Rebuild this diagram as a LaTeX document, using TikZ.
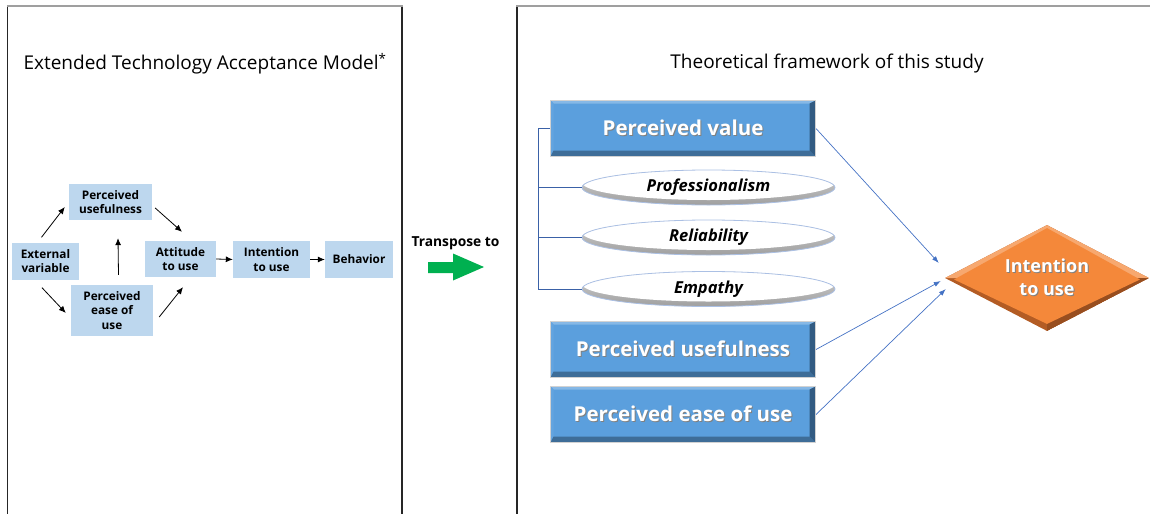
\documentclass[tikz,border=0pt]{standalone}
\usepackage{fontspec}
\setmainfont{Open Sans}
\usetikzlibrary{shapes.geometric,arrows.meta}
\tikzset{>={Latex[length=7pt,width=6pt]}}
\definecolor{tambox}{HTML}{BDD7EE}
\definecolor{pvblue}{HTML}{5B9FDD}
\definecolor{pvdark}{HTML}{3E6D98}
\definecolor{pvdarker}{HTML}{325B82}
\definecolor{pvlight}{HTML}{86B8E6}
\definecolor{linkblue}{HTML}{4472C4}
\definecolor{itorange}{HTML}{F4883A}
\definecolor{itdark}{HTML}{B35C24}
\definecolor{itlight}{HTML}{F7A86F}
\definecolor{arrgreen}{HTML}{00B050}
\colorlet{framegray}{gray!75}

% white text with a soft drop shadow
\newcommand\shtxt[1]{\leavevmode\rlap{\hspace{1pt}\raisebox{-1.2pt}{\color{black!50}#1}}#1}

\tikzset{
  side/.style = {line width=1.2pt, black!85},
  topline/.style = {line width=2pt, framegray},
  ttl/.style = {font=\fontsize{19}{23}\selectfont},
  tam/.style = {
    fill=tambox, align=center, inner sep=0pt, minimum height=37pt,
    font=\fontsize{11.8}{14.5}\selectfont\bfseries
  },
  arr/.style = {->, line width=0.8pt},
  link/.style = {->, line width=0.7pt, linkblue, >={Latex[length=7pt,width=5pt]}},
  brk/.style = {line width=1pt, linkblue!85!black},
  bevel/.style = {
    rectangle, fill=pvblue, draw=gray!35, line width=1pt,
    minimum width=265pt, minimum height=56pt, text=white,
    font=\fontsize{20.5}{24}\selectfont\bfseries,
    path picture={
      \def\bb{path picture bounding box}
      \fill[pvlight] (\bb.north west) -- (\bb.north east) -- ([shift={(-6pt,-3pt)}]\bb.north east) -- ([shift={(3pt,-3pt)}]\bb.north west) -- cycle;
      \fill[pvblue!80!pvlight] (\bb.north west) -- (\bb.south west) -- ([shift={(3pt,6pt)}]\bb.south west) -- ([shift={(3pt,-3pt)}]\bb.north west) -- cycle;
      \fill[pvdark] (\bb.south west) -- (\bb.south east) -- ([shift={(-6pt,6pt)}]\bb.south east) -- ([shift={(3pt,6pt)}]\bb.south west) -- cycle;
      \fill[pvdarker] (\bb.south east) -- (\bb.north east) -- ([shift={(-6pt,-3pt)}]\bb.north east) -- ([shift={(-6pt,6pt)}]\bb.south east) -- cycle;
    }
  },
  disc/.style = {
    ellipse, draw=linkblue!45, line width=0.8pt,
    minimum width=253pt, minimum height=35pt, inner sep=0pt,
    font=\fontsize{16.5}{19}\selectfont\bfseries\itshape,
    path picture={
      \def\bb{path picture bounding box}
      \shade[top color=gray!35, bottom color=gray!75] (\bb.south west) rectangle (\bb.north east);
      \fill[white] ([yshift=5pt]\bb.center) ellipse [x radius=126.5pt, y radius=17.5pt];
    }
  },
  itu/.style = {
    diamond, aspect=1.92, minimum width=204pt, minimum height=106pt, inner sep=0pt,
    fill=itdark, text=white, align=center,
    font=\fontsize{18}{23}\selectfont\bfseries,
    path picture={
      \def\bb{path picture bounding box}
      \fill[itlight] (\bb.west) -- (\bb.north) -- (\bb.east) -- cycle;
      \fill[itdark!85!black] (\bb.south) -- (\bb.east) -- ([xshift=-102pt]\bb.east) -- cycle;
      \fill[itorange] ([shift={(9pt,-1.5pt)}]\bb.west) -- ([yshift=-3pt]\bb.north)
        -- ([shift={(-9pt,-1.5pt)}]\bb.east) -- ([yshift=7pt]\bb.south) -- cycle;
    }
  }
}

\begin{document}
\begin{tikzpicture}[x=1pt,y=-1pt]
  \useasboundingbox (0,0) rectangle (1150,514);
  % frames
  \draw[side] (7.5,6) -- (7.5,514);
  \draw[side] (402,6) -- (402,514);
  \draw[side] (517,6) -- (517,514);
  \draw[topline] (6.9,6) -- (402.6,6);
  \draw[topline] (516.4,6) -- (1150,6);

  % left: extended TAM
  \node[ttl] (ltitle) at (205,64) {Extended Technology Acceptance Model\textsuperscript{*}};
  \node[tam, minimum width=67pt] (ext) at (45.5,261) {External\\variable};
  \node[tam, minimum width=83pt, minimum height=36pt] (pu) at (110.5,202) {Perceived\\usefulness};
  \node[tam, minimum width=82pt, minimum height=51pt] (peou) at (112,310.5) {Perceived\\ease of\\use};
  \node[tam, minimum width=71pt, minimum height=36pt] (att) at (180.5,259) {Attitude\\to use};
  \node[tam, minimum width=77pt] (int) at (271.5,259.5) {Intention\\to use};
  \node[tam, minimum width=68pt] (beh) at (359,259.5) {Behavior};

  \draw[arr] ([shift={(-4pt,5pt)}]ext.north) -- ([shift={(-4pt,-5pt)}]pu.west);
  \draw[arr] ([shift={(-3.5pt,-8pt)}]ext.south) -- ([shift={(-5pt,-2.5pt)}]peou.west);
  \draw[arr] ([shift={(3pt,-6pt)}]pu.east) -- ([shift={(1.5pt,9pt)}]att.north);
  \draw[arr] ([shift={(6pt,-6.5pt)}]peou.east) -- ([shift={(2.5pt,-10pt)}]att.south);
  \draw[arr] ([shift={(6.5pt,10pt)}]peou.north) -- ([shift={(7.5pt,-18pt)}]pu.south);
  \draw[arr] (att.east) -- (int.west);
  \draw[arr] (int.east) -- (beh.west);

  % transpose arrow
  \node[font=\fontsize{13.8}{16}\selectfont\bfseries] (tr) at (455.5,243) {Transpose to};
  \fill[arrgreen] (428,262) -- (453,262) -- (453,253.5) -- (484,267) -- (453,280.5)
    -- (453,273) -- (428,273) -- cycle;

  % right: framework of the study
  \node[ttl] (rtitle) at (827,64) {Theoretical framework of this study};
  \node[bevel] (pv) at (683,128.5) {\shtxt{Perceived value}};
  \node[disc] (prof) at (708.5,187.5) {Professionalism};
  \node[disc] (rel) at (708.5,237.5) {Reliability};
  \node[disc] (emp) at (708.5,289) {Empathy};
  \node[bevel] (useful) at (683,349.5) {\shtxt{Perceived usefulness}};
  \node[bevel] (ease) at (683,414.5) {\shtxt{Perceived ease of use}};
  \node[itu] (itu) at (1047,278) {\shtxt{Intention}\\\shtxt{to use}};

  % sub-dimensions of perceived value
  \coordinate (trunk) at ([xshift=-12pt]pv.west);
  \draw[brk] (pv.west) -- (trunk) |- (emp.west);
  \foreach \d in {prof,rel}
    \draw[brk] (\d.west) -- (\d.west -| trunk);

  \draw[link] (pv.east) -- ([shift={(-6pt,15pt)}]itu.west);
  \draw[link] (useful.east) -- ([shift={(-4pt,-3pt)}]itu.west);
  \draw[link] (ease.east) -- ([shift={(1pt,-11pt)}]itu.west);
\end{tikzpicture}
\end{document}
